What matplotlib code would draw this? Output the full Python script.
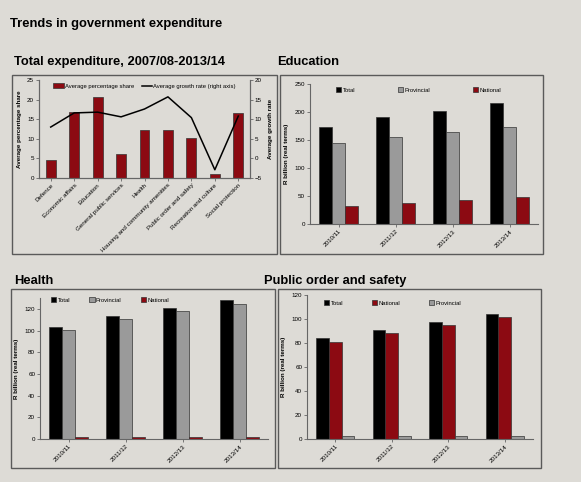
import matplotlib
matplotlib.use("Agg")
import matplotlib.pyplot as plt
from matplotlib.patches import Rectangle, Patch
from matplotlib.lines import Line2D
import numpy as np

plt.rcParams['font.family'] = ['Liberation Sans', 'DejaVu Sans']

# ---------------- data ----------------
functions = ["Defence", "Economic affairs", "Education", "General public services",
             "Health", "Housing and community amenities", "Public order and safety",
             "Recreation and culture", "Social protection"]
avg_share = [4.5, 16.8, 20.7, 6.2, 12.2, 12.2, 10.3, 0.9, 16.5]
avg_growth = [8.0, 11.6, 11.8, 10.6, 12.6, 15.7, 10.4, -2.9, 10.8]

years = ["2010/11", "2011/12", "2012/13", "2013/14"]
edu_total = [174, 190.5, 202.5, 216.5]
edu_prov = [144, 156, 164.5, 173]
edu_nat = [31.5, 37.5, 43, 48.5]

hea_total = [103, 113.3, 121, 127.8]
hea_prov = [100.3, 110.8, 118.2, 124.7]
hea_nat = [1.9, 1.9, 2.2, 2.2]

pos_total = [84, 90.8, 97.8, 104.4]
pos_nat = [81.1, 88, 94.7, 101.7]
pos_prov = [2.2, 2.2, 2.2, 2.8]

# ---------------- style ----------------
BG = "#dddbd6"
RED = "#8c0a12"
GREY = "#9a9a9a"
BLACK = "#000000"
EDGE = "#333333"
W, H = 581, 482
FS = 4.5
LFS = 4.2

fig = plt.figure(figsize=(W / 100, H / 100), dpi=100, facecolor=BG)


def px_axes(l, t, r, b):
    return fig.add_axes([l / W, 1 - b / H, (r - l) / W, (b - t) / H])


def box(l, t, r, b):
    fig.patches.append(Rectangle((l / W, 1 - b / H), (r - l) / W, (b - t) / H,
                                 transform=fig.transFigure, fill=False,
                                 edgecolor="#5a5a5a", linewidth=1.0))


def style_ax(ax, right=False):
    ax.set_facecolor("none")
    ax.spines['top'].set_visible(False)
    if not right:
        ax.spines['right'].set_visible(False)
    for s in ax.spines.values():
        s.set_color("#666666")
        s.set_linewidth(0.8)
    ax.tick_params(labelsize=FS, length=2, width=0.6, color="#666666", pad=1.5)


fig.text(10 / W, 1 - 24 / H, "Trends in government expenditure", fontsize=9.4,
         fontweight='bold', va='center', ha='left')
fig.text(14 / W, 1 - 62 / H, "Total expenditure, 2007/08-2013/14", fontsize=9.3,
         fontweight='bold', va='center', ha='left')
fig.text(277 / W, 1 - 62 / H, "Education", fontsize=9.3,
         fontweight='bold', va='center', ha='left')
fig.text(14 / W, 1 - 281 / H, "Health", fontsize=9.3,
         fontweight='bold', va='center', ha='left')
fig.text(264 / W, 1 - 281 / H, "Public order and safety", fontsize=9.3,
         fontweight='bold', va='center', ha='left')

box(12, 75, 277, 254)
box(280, 75, 543, 254)
box(11, 289, 275, 468)
box(278, 289, 541, 468)

# ---------------- total expenditure panel ----------------
ax = px_axes(39, 80, 250, 178)
style_ax(ax, right=True)
x = np.arange(len(functions))
ax.bar(x, avg_share, width=0.42, color=RED, edgecolor=EDGE, linewidth=0.5)
ax.set_ylim(0, 25)
ax.set_yticks(range(0, 26, 5))
ax.set_xlim(-0.5, len(functions) - 0.5)
ax.set_xticks(x)
ax.set_xticklabels(functions, rotation=45, ha='right', rotation_mode='anchor')
ax.set_ylabel("Average percentage share", fontsize=FS, labelpad=4, fontweight='bold')
ax2 = ax.twinx()
style_ax(ax2, right=True)
ax2.plot(x, avg_growth, color=BLACK, linewidth=1.1)
ax2.set_ylim(-5, 20)
ax2.set_yticks(range(-5, 21, 5))
ax2.set_ylabel("Average growth rate", fontsize=FS, labelpad=4, fontweight='bold')
handles = [Patch(facecolor=RED, edgecolor=EDGE, linewidth=0.5),
           Line2D([0], [0], color=BLACK, linewidth=1.1)]
ax.legend(handles, ["Average percentage share", "Average growth rate (right axis)"],
          loc='upper center', bbox_to_anchor=(0.5, 1.02), ncol=2, frameon=False,
          fontsize=LFS, handlelength=1.8, handleheight=0.9, columnspacing=1.4,
          handletextpad=0.15)


def grouped(ax, series, colors, labels, ymax, yticks, leg_l, leg_r, leg_y, axpos):
    style_ax(ax)
    x = np.arange(len(years))
    bw = 0.225
    n = len(series)
    for i, (vals, c) in enumerate(zip(series, colors)):
        ax.bar(x + (i - (n - 1) / 2) * bw, vals, width=bw, color=c,
               edgecolor=EDGE, linewidth=0.5, label=labels[i])
    ax.set_xlim(-0.5, len(years) - 0.5)
    ax.set_ylim(0, ymax)
    ax.set_yticks(yticks)
    ax.set_xticks(x)
    ax.set_xticklabels(years, rotation=45, ha='right', rotation_mode='anchor')
    ax.set_ylabel("R billion (real terms)", fontsize=FS, labelpad=4, fontweight='bold')
    l, t, r, b = axpos
    bl = (leg_l - l) / (r - l)
    br = (leg_r - l) / (r - l)
    by = (b - leg_y) / (b - t)
    ax.legend(loc='center left', bbox_to_anchor=(bl, by, br - bl, 0.0), mode='expand',
              ncol=n, frameon=False, fontsize=LFS, handlelength=0.9, handleheight=0.9,
              handletextpad=0.2, borderaxespad=0, borderpad=0)


pos = (310, 84, 538, 224)
ax = px_axes(*pos)
grouped(ax, [edu_total, edu_prov, edu_nat], [BLACK, GREY, RED],
        ["Total", "Provincial", "National"], 250, range(0, 251, 50),
        336, 501, 90, pos)

pos = (40, 298, 268, 439)
ax = px_axes(*pos)
grouped(ax, [hea_total, hea_prov, hea_nat], [BLACK, GREY, RED],
        ["Total", "Provincial", "National"], 130, range(0, 121, 20),
        51, 169, 300, pos)

pos = (307, 295, 533, 439)
ax = px_axes(*pos)
grouped(ax, [pos_total, pos_nat, pos_prov], [BLACK, RED, GREY],
        ["Total", "National", "Provincial"], 120, range(0, 121, 20),
        324, 461, 303, pos)

fig.savefig("out.png", dpi=100, facecolor=BG)
